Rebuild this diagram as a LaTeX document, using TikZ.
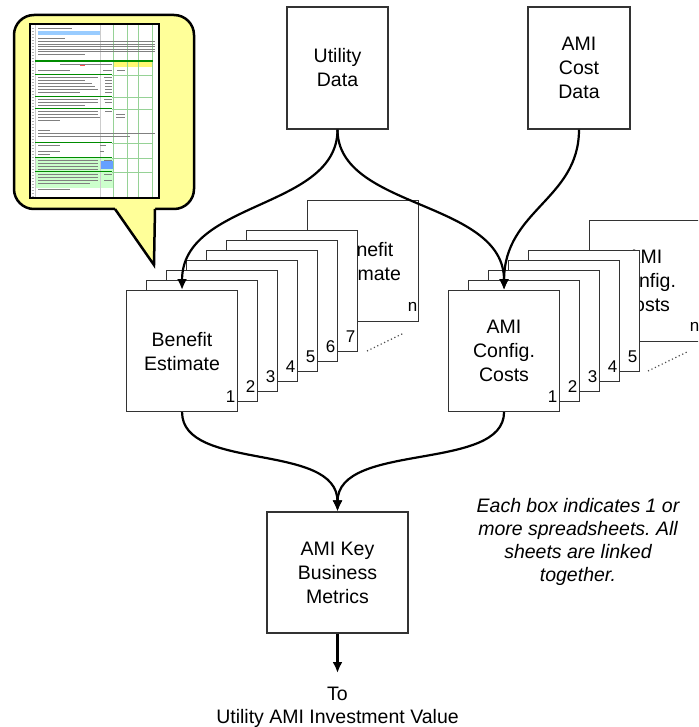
\documentclass[tikz,border=0pt]{standalone}
\usepackage{fontspec}
\setmainfont{Liberation Sans}
\usetikzlibrary{arrows.meta}
\frenchspacing
\definecolor{bubbley}{RGB}{255,255,153}
\definecolor{sgreen}{RGB}{0,140,0}
\definecolor{lgreen}{RGB}{150,210,150}
\definecolor{fgreen}{RGB}{204,255,204}
\definecolor{sblue}{RGB}{153,204,255}
\definecolor{dblue}{RGB}{102,160,255}
\tikzset{
  box/.style={draw=black!80, line width=1.1pt, fill=white, inner sep=0pt, align=center,
              font=\fontsize{19.5}{24}\selectfont},
  sheet/.style={box, minimum width=111pt, minimum height=121pt, anchor=north west},
  num/.style={font=\fontsize{17}{20}\selectfont, inner sep=0pt, anchor=base east},
  flow/.style={line width=2.2pt, -{Latex[length=11pt,width=10pt]}},
  more/.style={line width=1.2pt, black!70, dash pattern=on 1.2pt off 2.6pt},
  tl/.style={line width=1pt, black!50},
  gl/.style={line width=1pt, sgreen},
  cl/.style={line width=0.6pt, lgreen},
  plain/.style={inner sep=0pt, align=center, font=\fontsize{19.5}{23}\selectfont},
}
\begin{document}
\begin{tikzpicture}[x=1pt,y=-1pt]
\useasboundingbox (0,0) rectangle (698,727);
\clip (0,0) rectangle (698,727);

% ---------- callout bubble ----------
\draw[line width=2.5pt, fill=bubbley, rounded corners=20pt] (14,15) rectangle (194,209);
\fill[bubbley] (115,205) -- (155.5,205) -- (155,209) -- (154,265) -- (115,209) -- cycle;
\draw[line width=2.5pt, line join=miter] (115,209) -- (154,265) -- (155,209);

% spreadsheet thumbnail
\draw[line width=2pt, fill=white] (30,24) rectangle (159,198);
\fill[sblue] (38,31.5) rectangle (100,35);
\fill[yellow!55] (113,62.5) rectangle (153,67);
\fill[fgreen] (35,158) rectangle (113,188);
\fill[dblue] (100,161) rectangle (113,169);
\foreach \x in {113,127,138,152} {\draw[cl] (\x,25) -- (\x,197);}
\draw[line width=0.5pt, black!20] (100,25) -- (100,197);
\draw[line width=0.5pt, black!20] (35,25) -- (35,197);
\foreach \y in {28,31,...,196} {\draw[line width=0.6pt, black!30] (31.5,\y) -- (33.5,\y);}
\foreach \y/\a/\b in {29/38/72, 39/38/65, 42/38/155, 44.5/38/155, 47/38/155, 49.5/38/155,
  52/38/155, 55/38/85, 65/60/112, 71/38/70, 71/103/112, 71/117/125,
  78/38/98, 78/104/112, 81/38/85, 81/105/112, 84/38/92, 84/105/112, 87/38/95, 87/105/112,
  90/38/98, 90/105/112, 93/38/80, 93/105/112, 100/38/98, 100/104/112, 103/38/98, 103/105/112,
  106/38/85, 112/38/98, 112/105/112, 115/38/98, 115/116/125, 118/38/100, 118/116/125,
  121/38/60, 131/38/50, 134/38/155, 137/38/130, 146/38/60, 146/100/106, 152/38/60,
  152/100/104, 155/38/50, 161/38/98, 161/104/112, 164/38/98, 167/38/98, 170/38/98,
  175/38/98, 175/104/112, 178/38/98, 181/38/98, 181/104/112, 184/38/90, 190/38/70}
  {\draw[tl] (\a,\y) -- (\b,\y);}
\draw[line width=0.9pt, red!70] (80,65) -- (85,65);
\draw[gl, line width=1.6pt] (35,61) -- (153,61);
\foreach \y in {75,97,109,143,158,172}
  {\draw[gl] (35,\y) -- (112,\y); \draw[cl, line width=0.9pt] (112,\y) -- (153,\y);}

% ---------- source boxes ----------
\node[box, minimum width=101pt, minimum height=122pt] (ud) at (337.5,68) {Utility\\Data};
\node[box, minimum width=102pt, minimum height=122pt] (cd) at (579,68) {AMI\\Cost\\Data};

% ---------- benefit estimate stack ----------
\node[sheet] (bn) at (307,200) {Benefit\\Estimate};
\node[num] at ([shift={(-1.5pt,10.5pt)}]bn.south east) {n};
\foreach \k in {7,6,...,2} {
  \node[sheet] (b\k) at ({126+20*(\k-1)},{290-10*(\k-1)}) {};
  \node[num] at ([shift={(-2.5pt,9.5pt)}]b\k.south east) {\k};
}
\node[sheet] (b1) at (126,290) {Benefit\\Estimate};
\node[num] at ([shift={(-2.5pt,9.5pt)}]b1.south east) {1};
\coordinate (bd1) at (367,351);
\coordinate (bd2) at (404,333);
\draw[more] (bd1) -- (bd2);

% ---------- AMI config costs stack ----------
\node[sheet] (cn) at (589,220) {AMI\\Config.\\Costs};
\node[num] at ([shift={(-1.5pt,10.5pt)}]cn.south east) {n};
\foreach \k in {5,4,...,2} {
  \node[sheet] (c\k) at ({448+20*(\k-1)},{290-10*(\k-1)}) {};
  \node[num] at ([shift={(-2.5pt,9.5pt)}]c\k.south east) {\k};
}
\node[sheet] (c1) at (448,290) {AMI\\Config.\\Costs};
\node[num] at ([shift={(-2.5pt,9.5pt)}]c1.south east) {1};
\coordinate (cd1) at (648,371);
\coordinate (cd2) at (687,352);
\draw[more] (cd1) -- (cd2);

% ---------- key metrics ----------
\node[box, minimum width=141pt, minimum height=121pt] (km) at (337.5,572.5) {AMI Key\\Business\\Metrics};
\coordinate (dest) at (337.5,673);
\node[plain] (out) at (337.5,707) {To\\Utility AMI Investment Value};

% ---------- note ----------
\node[plain, font=\fontsize{19.5}{23}\selectfont\itshape] (note) at (578,541.5)
  {Each box indicates 1 or\\more spreadsheets. All\\sheets are linked\\together.};

% ---------- connectors ----------
\draw[flow] (ud.south) .. controls +(0,80) and +(0,-90) .. (b1.north);
\draw[flow] (ud.south) .. controls +(0,80) and +(0,-90) .. (c1.north);
\draw[flow] (cd.south) .. controls +(0,70) and +(0,-80) .. (c1.north);
\draw[flow] (b1.south) .. controls +(0,60) and +(0,-70) .. (km.north);
\draw[flow] (c1.south) .. controls +(0,60) and +(0,-70) .. (km.north);
\draw[flow] (km.south) -- (dest);
\end{tikzpicture}
\end{document}
